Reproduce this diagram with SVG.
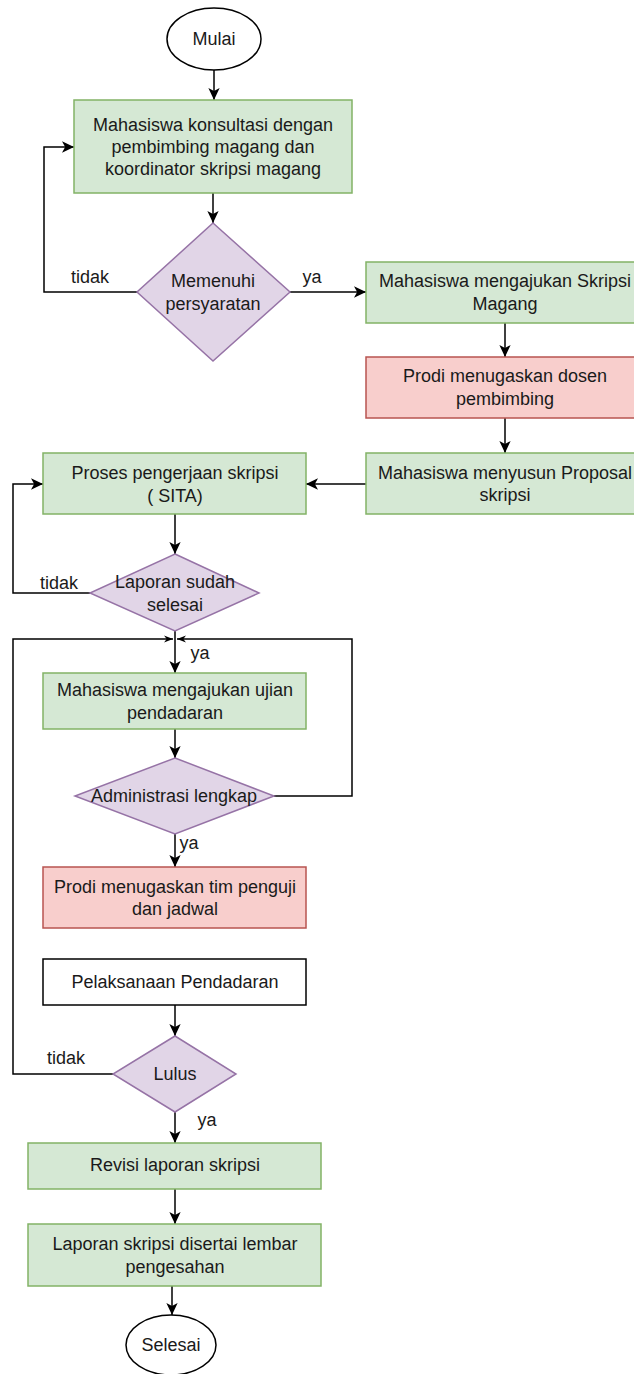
<svg xmlns="http://www.w3.org/2000/svg" width="634" height="1374" viewBox="0 0 634 1374">
<style>
text{font-family:"Liberation Sans",Arial,sans-serif;font-size:18px;fill:#1a1a1a;text-anchor:middle}
.g{fill:#d5e8d4;stroke:#82b366;stroke-width:1.5}
.r{fill:#f8cecc;stroke:#b85450;stroke-width:1.5}
.p{fill:#e1d5e7;stroke:#9673a6;stroke-width:1.5}
.w{fill:#ffffff;stroke:#000000;stroke-width:1.5}
.e{fill:#ffffff;stroke:#000000;stroke-width:1.5}
.c{fill:none;stroke:#000000;stroke-width:1.5}
</style>
<defs>
<marker id="arr" viewBox="0 0 10 10" refX="10" refY="5" markerWidth="12" markerHeight="12" orient="auto" markerUnits="userSpaceOnUse"><path d="M0,0.3 L10,5 L0,9.7 L2.6,5 Z" fill="#000"/></marker>
<marker id="sm" viewBox="0 0 10 10" refX="10" refY="5" markerWidth="9" markerHeight="9" orient="auto" markerUnits="userSpaceOnUse"><path d="M0,1 L10,5 L0,9 L3,5 Z" fill="#000"/></marker>
</defs>
<g id="connectors">
<path class="c" d="M214,70 L214,100" marker-end="url(#arr)"/>
<path class="c" d="M213,193 L213,223" marker-end="url(#arr)"/>
<path class="c" d="M137,292 L44,292 L44,147 L74,147" marker-end="url(#arr)"/>
<path class="c" d="M290,292 L366,292" marker-end="url(#arr)"/>
<path class="c" d="M505,323 L505,357" marker-end="url(#arr)"/>
<path class="c" d="M505,418 L505,453" marker-end="url(#arr)"/>
<path class="c" d="M366,484 L306,484" marker-end="url(#arr)"/>
<path class="c" d="M175,514 L175,554" marker-end="url(#arr)"/>
<path class="c" d="M90,593 L13,593 L13,484 L43,484" marker-end="url(#arr)"/>
<path class="c" d="M175,631 L175,673" marker-end="url(#arr)"/>
<path class="c" d="M274,796 L352,796 L352,639 L177,639" marker-end="url(#sm)"/>
<path class="c" d="M113,1074 L13,1074 L13,639 L173,639" marker-end="url(#sm)"/>
<path class="c" d="M175,729 L175,758" marker-end="url(#arr)"/>
<path class="c" d="M175,834 L175,867" marker-end="url(#arr)"/>
<path class="c" d="M175,1005 L175,1036" marker-end="url(#arr)"/>
<path class="c" d="M175,1112 L175,1143" marker-end="url(#arr)"/>
<path class="c" d="M175,1189 L175,1224" marker-end="url(#arr)"/>
<path class="c" d="M172,1286 L172,1315" marker-end="url(#arr)"/>
<text x="90" y="283">tidak</text>
<text x="312" y="283">ya</text>
<text x="59" y="589">tidak</text>
<text x="200" y="659">ya</text>
<text x="189" y="849">ya</text>
<text x="66" y="1064">tidak</text>
<text x="207" y="1126">ya</text>
</g>
<g id="mulai"><ellipse class="e" cx="214" cy="39" rx="47" ry="31"/><text x="214" y="45">Mulai</text></g>
<g id="konsultasi"><rect class="g" x="74" y="100" width="278" height="93"/><text x="213" y="131">Mahasiswa konsultasi dengan</text><text x="213" y="153">pembimbing magang dan</text><text x="213" y="175">koordinator skripsi magang</text></g>
<g id="persyaratan"><polygon class="p" points="213,223 290,292 213,361 137,292"/><text x="213" y="287">Memenuhi</text><text x="213" y="310">persyaratan</text></g>
<g id="mengajukan"><rect class="g" x="366" y="262" width="278" height="61"/><text x="505" y="287">Mahasiswa mengajukan Skripsi</text><text x="505" y="310">Magang</text></g>
<g id="dosen"><rect class="r" x="366" y="357" width="278" height="61"/><text x="505" y="382">Prodi menugaskan dosen</text><text x="505" y="405">pembimbing</text></g>
<g id="proposal"><rect class="g" x="366" y="453" width="278" height="61"/><text x="505" y="479">Mahasiswa menyusun Proposal</text><text x="505" y="501">skripsi</text></g>
<g id="sita"><rect class="g" x="43" y="453" width="263" height="61"/><text x="175" y="479">Proses pengerjaan skripsi</text><text x="175" y="502">( SITA)</text></g>
<g id="laporan"><polygon class="p" points="175,554 259,593 175,631 90,593"/><text x="175" y="588">Laporan sudah</text><text x="175" y="611">selesai</text></g>
<g id="ujian"><rect class="g" x="43" y="673" width="263" height="56"/><text x="175" y="696">Mahasiswa mengajukan ujian</text><text x="175" y="719">pendadaran</text></g>
<g id="administrasi"><polygon class="p" points="175,758 274,796 175,834 75,796"/><text x="174" y="802">Administrasi lengkap</text></g>
<g id="penguji"><rect class="r" x="43" y="867" width="263" height="61"/><text x="175" y="893">Prodi menugaskan tim penguji</text><text x="175" y="915">dan jadwal</text></g>
<g id="pelaksanaan"><rect class="w" x="43" y="959" width="263" height="46"/><text x="175" y="988">Pelaksanaan Pendadaran</text></g>
<g id="lulus"><polygon class="p" points="175,1036 236,1074 175,1112 113,1074"/><text x="175" y="1080">Lulus</text></g>
<g id="revisi"><rect class="g" x="28" y="1143" width="293" height="46"/><text x="175" y="1171">Revisi laporan skripsi</text></g>
<g id="pengesahan"><rect class="g" x="28" y="1224" width="293" height="62"/><text x="175" y="1250">Laporan skripsi disertai lembar</text><text x="175" y="1273">pengesahan</text></g>
<g id="selesai"><ellipse class="e" cx="171" cy="1345" rx="45" ry="30"/><text x="171" y="1351">Selesai</text></g>
</svg>
